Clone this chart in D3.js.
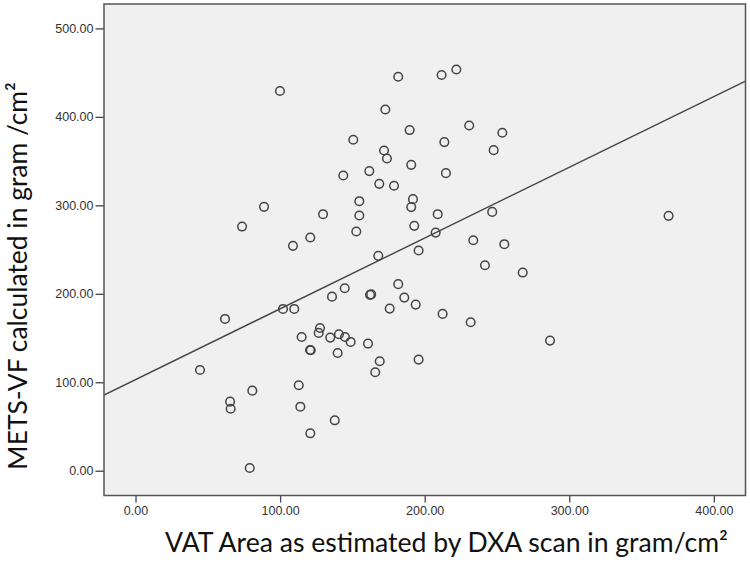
<!DOCTYPE html>
<html>
<head>
<meta charset="utf-8">
<script src="https://cdn.jsdelivr.net/npm/d3@7"></script>
<style>
  html, body { margin: 0; padding: 0; background: #fff; }
  svg { display: block; }
  .tick text { font-family: "Liberation Sans", Arial, sans-serif; font-size: 12.5px; fill: #333; }
  .tick line { stroke: #444; stroke-width: 1.3; }
  .title { font-family: Lato, "Open Sans", sans-serif; fill: #111; }
</style>
</head>
<body>
<svg id="chart" width="750" height="585"></svg>
<script>
'use strict';

// VAT area (DXA, gram/cm2) for each subject
const vat = [
  181.7, 211.7, 221.9, 99.9, 172.8, 189.6, 150.6, 171.9, 173.9, 190.7,
  143.7, 161.7, 168.6, 178.8, 191.9, 190.7, 154.8, 154.8, 129.7, 88.9,
  73.7, 120.9, 108.9, 152.7, 192.8, 209.0, 207.6, 195.8, 230.8, 253.7,
  213.6, 247.7, 214.7, 246.7, 233.6, 255.1, 368.7, 167.9, 61.9, 102.0,
  109.8, 135.9, 144.7, 162.2, 163.0, 181.7, 185.9, 175.8, 193.8, 212.4,
  195.8, 127.6, 126.7, 114.9, 134.7, 140.7, 144.9, 148.8, 160.8, 120.7,
  121.2, 139.8, 168.9, 165.8, 44.6, 80.8, 65.4, 65.8, 112.9, 114.0,
  137.8, 120.9, 79.0, 241.7, 267.8, 231.8, 286.7
];

// METS-VF (gram/cm2), same order
const metsvf = [
  445.4, 447.3, 453.6, 429.3, 408.4, 385.1, 374.1, 362.0, 353.0, 345.8,
  333.7, 338.7, 324.3, 322.1, 307.0, 298.0, 304.7, 288.5, 290.0, 298.3,
  276.0, 263.6, 254.2, 270.4, 276.8, 290.0, 269.2, 248.9, 390.3, 382.0,
  371.5, 362.4, 336.4, 292.6, 260.6, 256.1, 288.1, 242.9, 171.6, 182.9,
  182.9, 196.8, 206.3, 198.8, 199.3, 210.9, 195.7, 183.3, 187.8, 177.3,
  125.6, 161.4, 155.8, 151.2, 150.5, 154.3, 151.2, 145.6, 143.7, 136.5,
  136.2, 133.1, 123.7, 111.3, 113.9, 90.5, 78.1, 70.1, 96.6, 72.4,
  57.0, 42.3, 3.1, 232.3, 224.0, 167.9, 147.1
];

const xTicks = [0, 100, 200, 300, 400];
const yTicks = [0, 100, 200, 300, 400, 500];

// fit line
const regIntercept = 103;
const regSlope = 0.80;

const xLabel = 'VAT Area as estimated by DXA scan in gram/cm\u00B2';
const yLabel = 'METS-VF calculated in gram /cm\u00B2';

const plot = { left: 104, right: 745.5, top: 4, bottom: 495.5 };

const svg = d3.select('#chart');

const x = d3.scaleLinear().domain([-21.8, 421.9]).range([plot.left, plot.right]);
const y = d3.scaleLinear().domain([-28, 527.6]).range([plot.bottom, plot.top]);

// plot background
svg.append('rect')
  .attr('x', plot.left)
  .attr('y', plot.top)
  .attr('width', plot.right - plot.left)
  .attr('height', plot.bottom - plot.top)
  .attr('fill', '#f0f0f0');

svg.append('clipPath').attr('id', 'clip')
  .append('rect')
  .attr('x', plot.left)
  .attr('y', plot.top)
  .attr('width', plot.right - plot.left)
  .attr('height', plot.bottom - plot.top);

// axes
const fmt = d3.format('.2f');

svg.append('g')
  .attr('transform', `translate(0,${plot.bottom})`)
  .call(d3.axisBottom(x).tickValues(xTicks).tickFormat(fmt).tickSize(7).tickPadding(4))
  .call(g => g.select('.domain').remove());

svg.append('g')
  .attr('transform', `translate(${plot.left},0)`)
  .call(d3.axisLeft(y).tickValues(yTicks).tickFormat(fmt).tickSize(8.5).tickPadding(2))
  .call(g => g.select('.domain').remove());

// regression line
const xd = x.domain();
svg.append('line')
  .attr('clip-path', 'url(#clip)')
  .attr('x1', x(xd[0]))
  .attr('y1', y(regIntercept + regSlope * xd[0]))
  .attr('x2', x(xd[1]))
  .attr('y2', y(regIntercept + regSlope * xd[1]))
  .attr('stroke', '#444')
  .attr('stroke-width', 1.4);

// points
svg.append('g')
  .selectAll('circle')
  .data(vat.map((v, i) => [v, metsvf[i]]))
  .join('circle')
  .attr('cx', d => x(d[0]))
  .attr('cy', d => y(d[1]))
  .attr('r', 4.3)
  .attr('fill', 'none')
  .attr('stroke', '#444')
  .attr('stroke-width', 1.5);

// frame
svg.append('rect')
  .attr('x', plot.left)
  .attr('y', plot.top)
  .attr('width', plot.right - plot.left)
  .attr('height', plot.bottom - plot.top)
  .attr('fill', 'none')
  .attr('stroke', '#555')
  .attr('stroke-width', 1.5);

// titles, sized to the width they take in the original
function fitText(sel, target) {
  const w = sel.node().getComputedTextLength();
  const fs = parseFloat(sel.attr('font-size'));
  sel.attr('font-size', (fs * target / w).toFixed(2));
}

const xt = svg.append('text')
  .attr('class', 'title')
  .attr('x', 446.5)
  .attr('y', 552)
  .attr('text-anchor', 'middle')
  .attr('font-size', 22)
  .text(xLabel);
fitText(xt, 563);

const yt = svg.append('text')
  .attr('class', 'title')
  .attr('transform', 'translate(27,276) rotate(-90)')
  .attr('text-anchor', 'middle')
  .attr('font-size', 26)
  .text(yLabel);
fitText(yt, 388);
</script>
</body>
</html>
